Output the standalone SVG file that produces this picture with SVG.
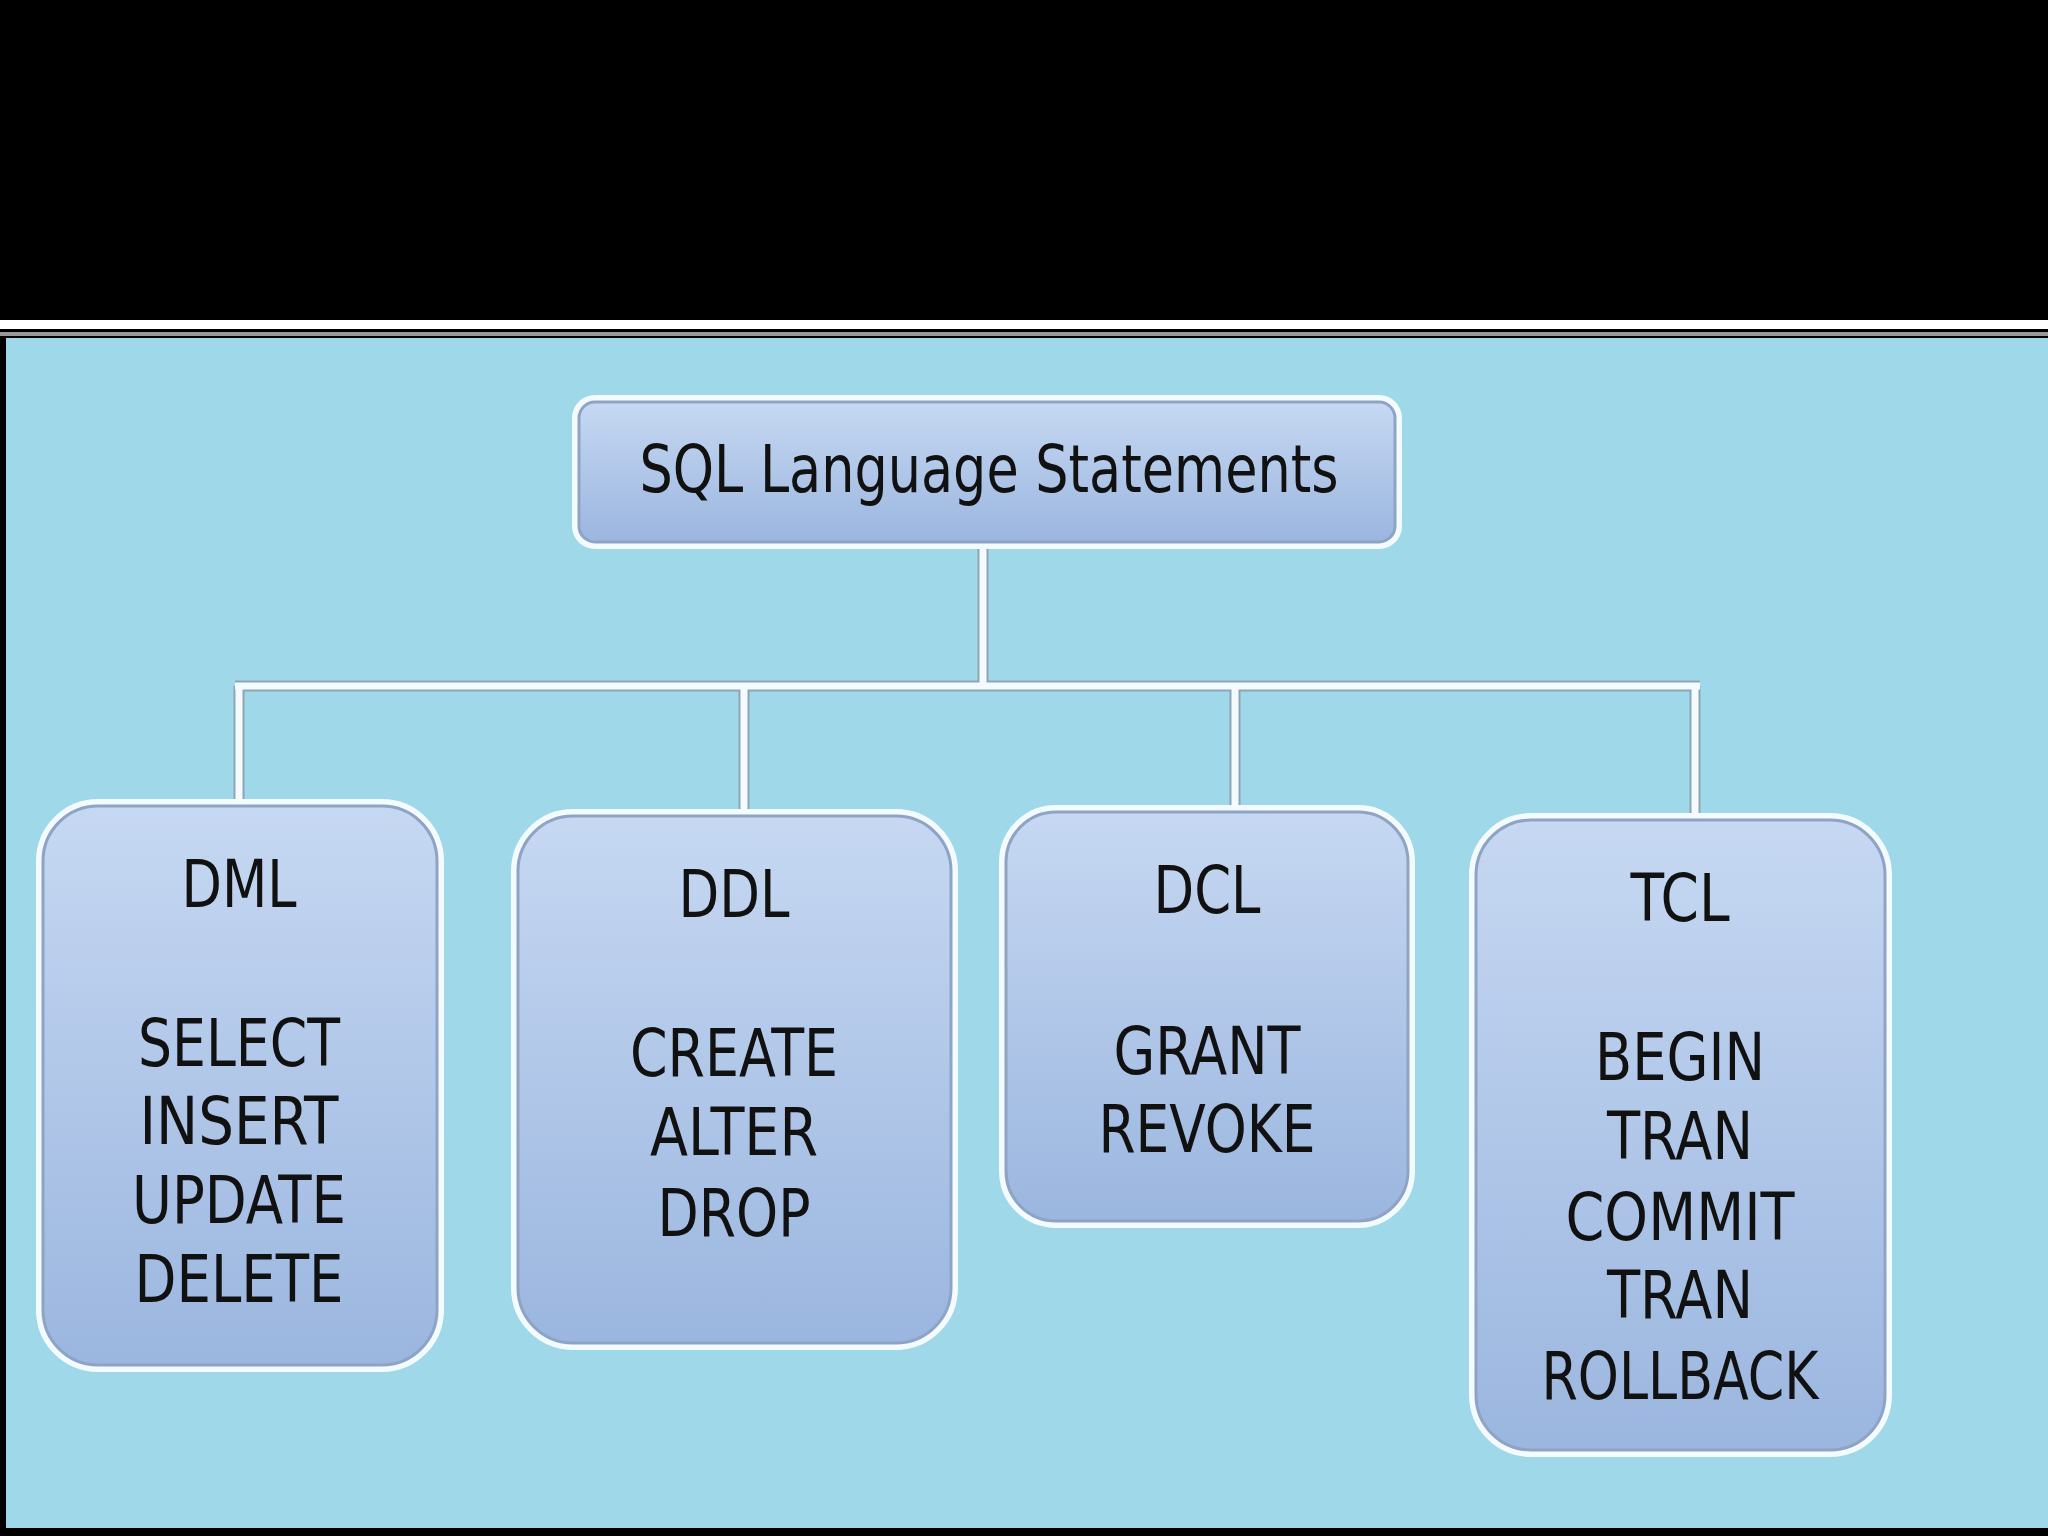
<svg xmlns="http://www.w3.org/2000/svg" width="2048" height="1536" viewBox="0 0 2048 1536">
<defs>
<linearGradient id="g" x1="0" y1="0" x2="0" y2="1"><stop offset="0" stop-color="#c6d8f2"/><stop offset="1" stop-color="#9bb6df"/></linearGradient>
<style>
.box{fill:url(#g);stroke:#8ea4c4;stroke-width:3}
.halo{fill:none;stroke:#f4fbff;stroke-width:14}
.t{font-family:"DejaVu Sans Condensed","DejaVu Sans","Liberation Sans",sans-serif;font-size:66px;fill:#111;text-anchor:middle}
.cw{stroke:#f4fbff;stroke-width:7;fill:none}
.cg{stroke:#8ea4b4;stroke-width:11;fill:none}
</style>
</defs>
<rect width="2048" height="1536" fill="#000"/>
<rect x="0" y="320" width="2048" height="9" fill="#fff"/>
<rect x="0" y="332" width="2048" height="4" fill="#999"/>
<rect x="6" y="338" width="2042" height="1190" fill="#9fd8e8"/>
<g id="connectors">
<path class="cg" d="M983 542V686M235 686H1700M239 686V806M744 686V816M1235 686V812M1695 686V829"/>
<path class="cw" d="M983 542V686M235 686H1700M239 686V806M744 686V816M1235 686V812M1695 686V829"/>
</g>
<g id="root">
<rect class="halo" x="579" y="402" width="816" height="140" rx="16"/>
<rect class="box" x="579" y="402" width="816" height="140" rx="16"/>
<text class="t" x="989" y="492" textLength="699" lengthAdjust="spacingAndGlyphs">SQL Language Statements</text>
</g>
<g id="dml">
<rect class="halo" x="43" y="806" width="394" height="559" rx="55"/>
<rect class="box" x="43" y="806" width="394" height="559" rx="55"/>
<text class="t" x="239" y="907" textLength="115" lengthAdjust="spacingAndGlyphs">DML</text>
<text class="t" x="239" y="1066" textLength="202" lengthAdjust="spacingAndGlyphs">SELECT</text>
<text class="t" x="239" y="1144" textLength="199" lengthAdjust="spacingAndGlyphs">INSERT</text>
<text class="t" x="239" y="1223" textLength="214" lengthAdjust="spacingAndGlyphs">UPDATE</text>
<text class="t" x="239" y="1302" textLength="209" lengthAdjust="spacingAndGlyphs">DELETE</text>
</g>
<g id="ddl">
<rect class="halo" x="518" y="816" width="433" height="527" rx="55"/>
<rect class="box" x="518" y="816" width="433" height="527" rx="55"/>
<text class="t" x="734" y="917" textLength="111" lengthAdjust="spacingAndGlyphs">DDL</text>
<text class="t" x="734" y="1076" textLength="208" lengthAdjust="spacingAndGlyphs">CREATE</text>
<text class="t" x="734" y="1155" textLength="168" lengthAdjust="spacingAndGlyphs">ALTER</text>
<text class="t" x="734" y="1236" textLength="153" lengthAdjust="spacingAndGlyphs">DROP</text>
</g>
<g id="dcl">
<rect class="halo" x="1006" y="812" width="402" height="409" rx="50"/>
<rect class="box" x="1006" y="812" width="402" height="409" rx="50"/>
<text class="t" x="1207" y="913" textLength="107" lengthAdjust="spacingAndGlyphs">DCL</text>
<text class="t" x="1207" y="1074" textLength="187" lengthAdjust="spacingAndGlyphs">GRANT</text>
<text class="t" x="1207" y="1152" textLength="217" lengthAdjust="spacingAndGlyphs">REVOKE</text>
</g>
<g id="tcl">
<rect class="halo" x="1476" y="820" width="409" height="630" rx="55"/>
<rect class="box" x="1476" y="820" width="409" height="630" rx="55"/>
<text class="t" x="1680" y="921" textLength="99" lengthAdjust="spacingAndGlyphs">TCL</text>
<text class="t" x="1680" y="1080" textLength="170" lengthAdjust="spacingAndGlyphs">BEGIN</text>
<text class="t" x="1680" y="1159" textLength="146" lengthAdjust="spacingAndGlyphs">TRAN</text>
<text class="t" x="1680" y="1240" textLength="229" lengthAdjust="spacingAndGlyphs">COMMIT</text>
<text class="t" x="1680" y="1318" textLength="146" lengthAdjust="spacingAndGlyphs">TRAN</text>
<text class="t" x="1680" y="1399" textLength="277" lengthAdjust="spacingAndGlyphs">ROLLBACK</text>
</g>
</svg>
